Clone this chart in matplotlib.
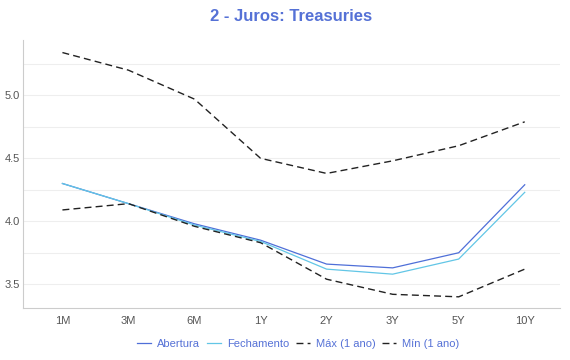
import matplotlib
matplotlib.use('Agg')
import matplotlib.pyplot as plt
from matplotlib.ticker import MultipleLocator, FormatStrFormatter

plt.rcParams['font.family'] = ['Liberation Sans', 'DejaVu Sans']

vertices = ['1M', '3M', '6M', '1Y', '2Y', '3Y', '5Y', '10Y']
abertura = [4.30, 4.14, 3.98, 3.85, 3.66, 3.63, 3.75, 4.29]
fechamento = [4.30, 4.14, 3.97, 3.84, 3.62, 3.58, 3.70, 4.23]
maximo = [5.34, 5.20, 4.97, 4.50, 4.38, 4.48, 4.60, 4.79]
minimo = [4.09, 4.14, 3.96, 3.83, 3.54, 3.42, 3.40, 3.62]

azul = '#4f6fd8'
ciano = '#62c6e6'

fig = plt.figure(figsize=(5.7, 3.6), dpi=100)
ax = fig.add_axes([0.040, 0.144, 0.942, 0.745])

x = range(len(vertices))
ax.plot(x, abertura, color=azul, lw=0.9, label='Abertura')
ax.plot(x, fechamento, color=ciano, lw=0.9, label='Fechamento')
ax.plot(x, maximo, color='#222222', lw=1.0, ls=(0, (5, 3)), label='Máx (1 ano)')
ax.plot(x, minimo, color='#222222', lw=1.0, ls=(0, (5, 3)), label='Mín (1 ano)')

ax.set_xticks(list(x))
ax.set_xticklabels(vertices)
ax.set_xlim(-0.6, 7.53)
ax.set_ylim(3.31, 5.44)
ax.yaxis.set_major_locator(MultipleLocator(0.5))
ax.yaxis.set_minor_locator(MultipleLocator(0.25))
ax.yaxis.set_major_formatter(FormatStrFormatter('%.1f'))
ax.grid(axis='y', which='both', color='#eeeeee', lw=0.8)
ax.set_axisbelow(True)
ax.tick_params(which='both', length=0, labelsize=8, colors='#555555')
ax.tick_params(axis='x', pad=6)
ax.tick_params(axis='y', pad=2)

for s in ['top', 'right']:
    ax.spines[s].set_visible(False)
for s in ['left', 'bottom']:
    ax.spines[s].set_color('#cccccc')

fig.suptitle('2 - Juros: Treasuries', x=0.51, y=0.975, fontsize=12,
             fontweight='bold', color='#5571d6')

leg = fig.legend(loc='center', bbox_to_anchor=(0.523, 0.045), ncol=4,
                 frameon=False, fontsize=8, handlelength=1.3,
                 handletextpad=0.5, columnspacing=0.6)
for t in leg.get_texts():
    t.set_color('#5571d6')

fig.savefig('out.png', dpi=100)
